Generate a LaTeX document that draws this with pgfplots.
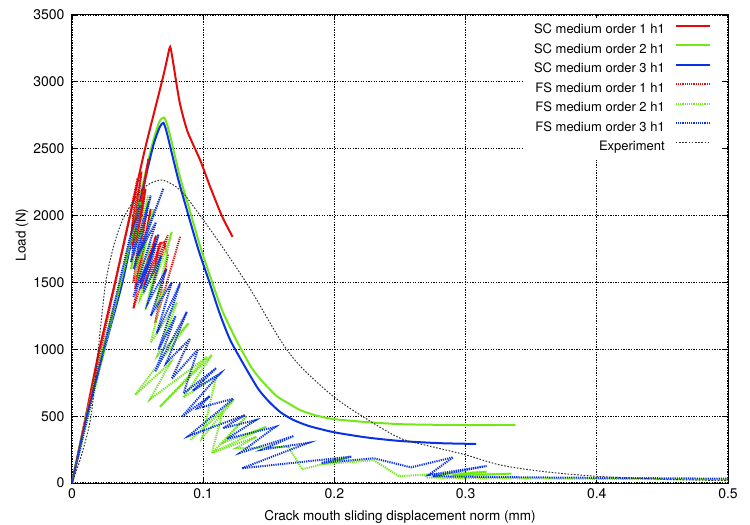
\documentclass[border=0pt]{standalone}
\usepackage{pgfplots}
\pgfplotsset{compat=1.18}
\usepackage{fontspec}
\setmainfont{TeX Gyre Heros}
\definecolor{gred}{RGB}{228,10,10}
\definecolor{ggreen}{RGB}{115,232,25}
\definecolor{gblue}{RGB}{10,50,228}
\begin{document}
\begin{tikzpicture}
\useasboundingbox (-72pt,-42pt) rectangle (678pt,483pt);
\begin{axis}[
  scale only axis, width=656pt, height=468pt,
  xmin=0, xmax=0.5, ymin=0, ymax=3500,
  xtick={0,0.1,0.2,0.3,0.4,0.5},
  ytick={0,500,1000,1500,2000,2500,3000,3500},
  scaled x ticks=false, scaled y ticks=false,
  /pgf/number format/1000 sep={},
  /pgf/number format/assume math mode=true,
  tick align=inside, major tick length=5pt,
  tick style={black, line width=0.8pt},
  grid=major,
  major grid style={black, line width=1.2pt, dash pattern=on 1.3pt off 1.3pt},
  axis line style={black, line width=1pt},
  tick label style={font=\fontsize{14}{16}\selectfont},
  yticklabel style={xshift=-4pt},
  xticklabel style={yshift=-2pt},
  xlabel={Crack mouth sliding displacement norm (mm)},
  ylabel={Load (N)},
  label style={font=\fontsize{13.5}{16}\selectfont},
  xlabel style={at={(axis description cs:0.5,-0.073)}, anchor=center},
  ylabel style={at={(axis description cs:-0.076,0.53)}, anchor=center},
  legend cell align=right,
  legend plot pos=right,
  legend image code/.code={\path (0pt,0pt); \draw[#1] (0pt,4.5pt) -- (34pt,4.5pt);},
  legend style={at={(axis description cs:0.9893,0.9936)}, anchor=north east,
    draw=none, fill=white, inner xsep=10pt, inner ysep=6pt,
    font=\fontsize{13}{15}\selectfont,
    nodes={inner sep=0pt, text height=9.5pt, text depth=3pt},
    row sep=7pt, column sep=10pt},
]
% SC order 1
\addplot[gred, line width=2pt, smooth, tension=0.4] coordinates {
(0,0) (0.0105,500) (0.0209,1000) (0.0328,1500) (0.0443,2000) (0.0557,2500)
(0.0685,3000) (0.0725,3170) (0.0748,3261) (0.0770,3150)
(0.0820,2850) (0.0880,2630) (0.0977,2414) (0.1053,2215) (0.1143,1996) (0.1224,1841)};
\addlegendentry{SC medium order 1 h1}
% SC order 2
\addplot[ggreen, line width=2pt, smooth, tension=0.4] coordinates {
(0,0) (0.0108,500) (0.0235,1000) (0.0368,1500) (0.0485,2000) (0.0603,2500)
(0.0665,2700) (0.0702,2733) (0.0725,2680) (0.0760,2550) (0.0820,2300)
(0.0900,2030) (0.0980,1760) (0.1069,1500) (0.1145,1290) (0.1252,1069)
(0.1370,860) (0.1460,750) (0.1560,650) (0.1660,590)
(0.1740,545) (0.1860,505) (0.1995,478) (0.2250,455) (0.2504,440)
(0.2800,435) (0.3100,433) (0.3380,435)};
\addlegendentry{SC medium order 2 h1}
% SC order 3
\addplot[gblue, line width=2pt, smooth, tension=0.4] coordinates {
(0,0) (0.0112,500) (0.0247,1000) (0.0384,1500) (0.0494,2000) (0.0613,2500)
(0.0668,2660) (0.0697,2693) (0.0720,2630) (0.0750,2510) (0.0810,2270)
(0.0888,2000) (0.0965,1740) (0.1048,1500) (0.1125,1270) (0.1206,1069)
(0.1330,850) (0.1422,700) (0.1500,610) (0.1588,530)
(0.1680,475) (0.1800,428) (0.1995,380) (0.2250,340) (0.2504,314)
(0.2800,298) (0.3080,292)};
\addlegendentry{SC medium order 3 h1}
% FS order 1
\addplot[gred, line width=2pt, dash pattern=on 1.2pt off 1pt] coordinates {
(0,0) (0.0440,2000) (0.0500,2280) (0.0450,1850) (0.0530,2330) (0.0460,1750)
(0.0583,2427) (0.0470,1700) (0.0560,2200) (0.0468,1500) (0.0580,2100)
(0.0480,1450) (0.0600,2050) (0.0468,1306) (0.0570,1617) (0.0520,1500)
(0.0640,1850) (0.0540,1450) (0.0680,1800) (0.0600,1550) (0.0730,1853)
(0.0620,1490) (0.0660,1790) (0.0700,1800) (0.0730,1700) (0.0634,1196)
(0.0824,1841)};
\addlegendentry{FS medium order 1 h1}
% FS order 2
\addplot[ggreen, line width=2pt, dash pattern=on 1.2pt off 1pt] coordinates {
(0,0) (0.0460,1850) (0.0520,2100) (0.0450,1600) (0.0580,2150) (0.0480,1550)
(0.0620,2050) (0.0500,1500) (0.0600,1800) (0.0520,1380) (0.0634,1600)
(0.0560,1300) (0.0760,1878) (0.0634,1318) (0.0700,1450) (0.0600,1050)
(0.0800,1350) (0.0650,950) (0.0888,1194) (0.0481,658) (0.0750,900)
(0.0595,626) (0.1030,944) (0.0670,570) (0.1066,957) (0.0850,640)
(0.1100,800) (0.0990,334) (0.1230,620) (0.0900,321) (0.1150,540)
(0.1066,222) (0.1330,500) (0.1150,300) (0.1480,420) (0.1070,226)
(0.1405,346) (0.1250,260) (0.1650,270) (0.1754,102) (0.2130,197)
(0.1900,140) (0.2300,170) (0.2490,52) (0.3160,84) (0.2900,60)
(0.3350,70) (0.2700,40) (0.5000,25)};
\addlegendentry{FS medium order 2 h1}
% FS order 3
\addplot[gblue, line width=2pt, dash pattern=on 1.2pt off 1pt] coordinates {
(0,0) (0.0443,1841) (0.0520,2080) (0.0450,1650) (0.0600,2150) (0.0470,1600)
(0.0697,2203) (0.0500,1700) (0.0640,1950) (0.0468,1392) (0.0634,1792)
(0.0520,1450) (0.0660,1860) (0.0545,1420) (0.0680,1700) (0.0580,1350)
(0.0720,1600) (0.0600,1250) (0.0760,1500) (0.0646,1119) (0.0824,1493)
(0.0660,1000) (0.0790,1250) (0.0634,832) (0.0875,1280) (0.0720,900)
(0.0900,1080) (0.0760,780) (0.0960,1000) (0.0850,670) (0.1100,860)
(0.0920,690) (0.1130,820) (0.0837,495) (0.1050,650) (0.0960,560)
(0.1230,630) (0.0888,351) (0.1320,508) (0.1150,410) (0.1400,470)
(0.1180,330) (0.1550,420) (0.1282,226) (0.1690,351) (0.1450,250)
(0.1800,300) (0.1295,110) (0.2130,197) (0.1900,150) (0.2300,185)
(0.2584,117) (0.2905,192) (0.2718,60) (0.3160,127) (0.2750,50)
(0.3500,42) (0.5000,32)};
\addlegendentry{FS medium order 3 h1}
% Experiment
\addplot[black!80, line width=1pt, dash pattern=on 1.6pt off 1.6pt, smooth, tension=0.5] coordinates {
(0,0) (0.0070,200) (0.0145,500) (0.0200,1000) (0.0257,1500) (0.0320,1780)
(0.0385,1966) (0.0450,2080) (0.0520,2180) (0.0595,2240) (0.0685,2265)
(0.0770,2230) (0.0850,2165) (0.0977,2000) (0.1150,1760) (0.1359,1450)
(0.1588,1069) (0.1740,874) (0.1995,645) (0.2250,476) (0.2504,334)
(0.2750,270) (0.2987,214) (0.3267,134) (0.3600,85) (0.4000,50)
(0.4500,28) (0.5000,18)};
\addlegendentry{Experiment}
\end{axis}
\end{tikzpicture}
\end{document}
